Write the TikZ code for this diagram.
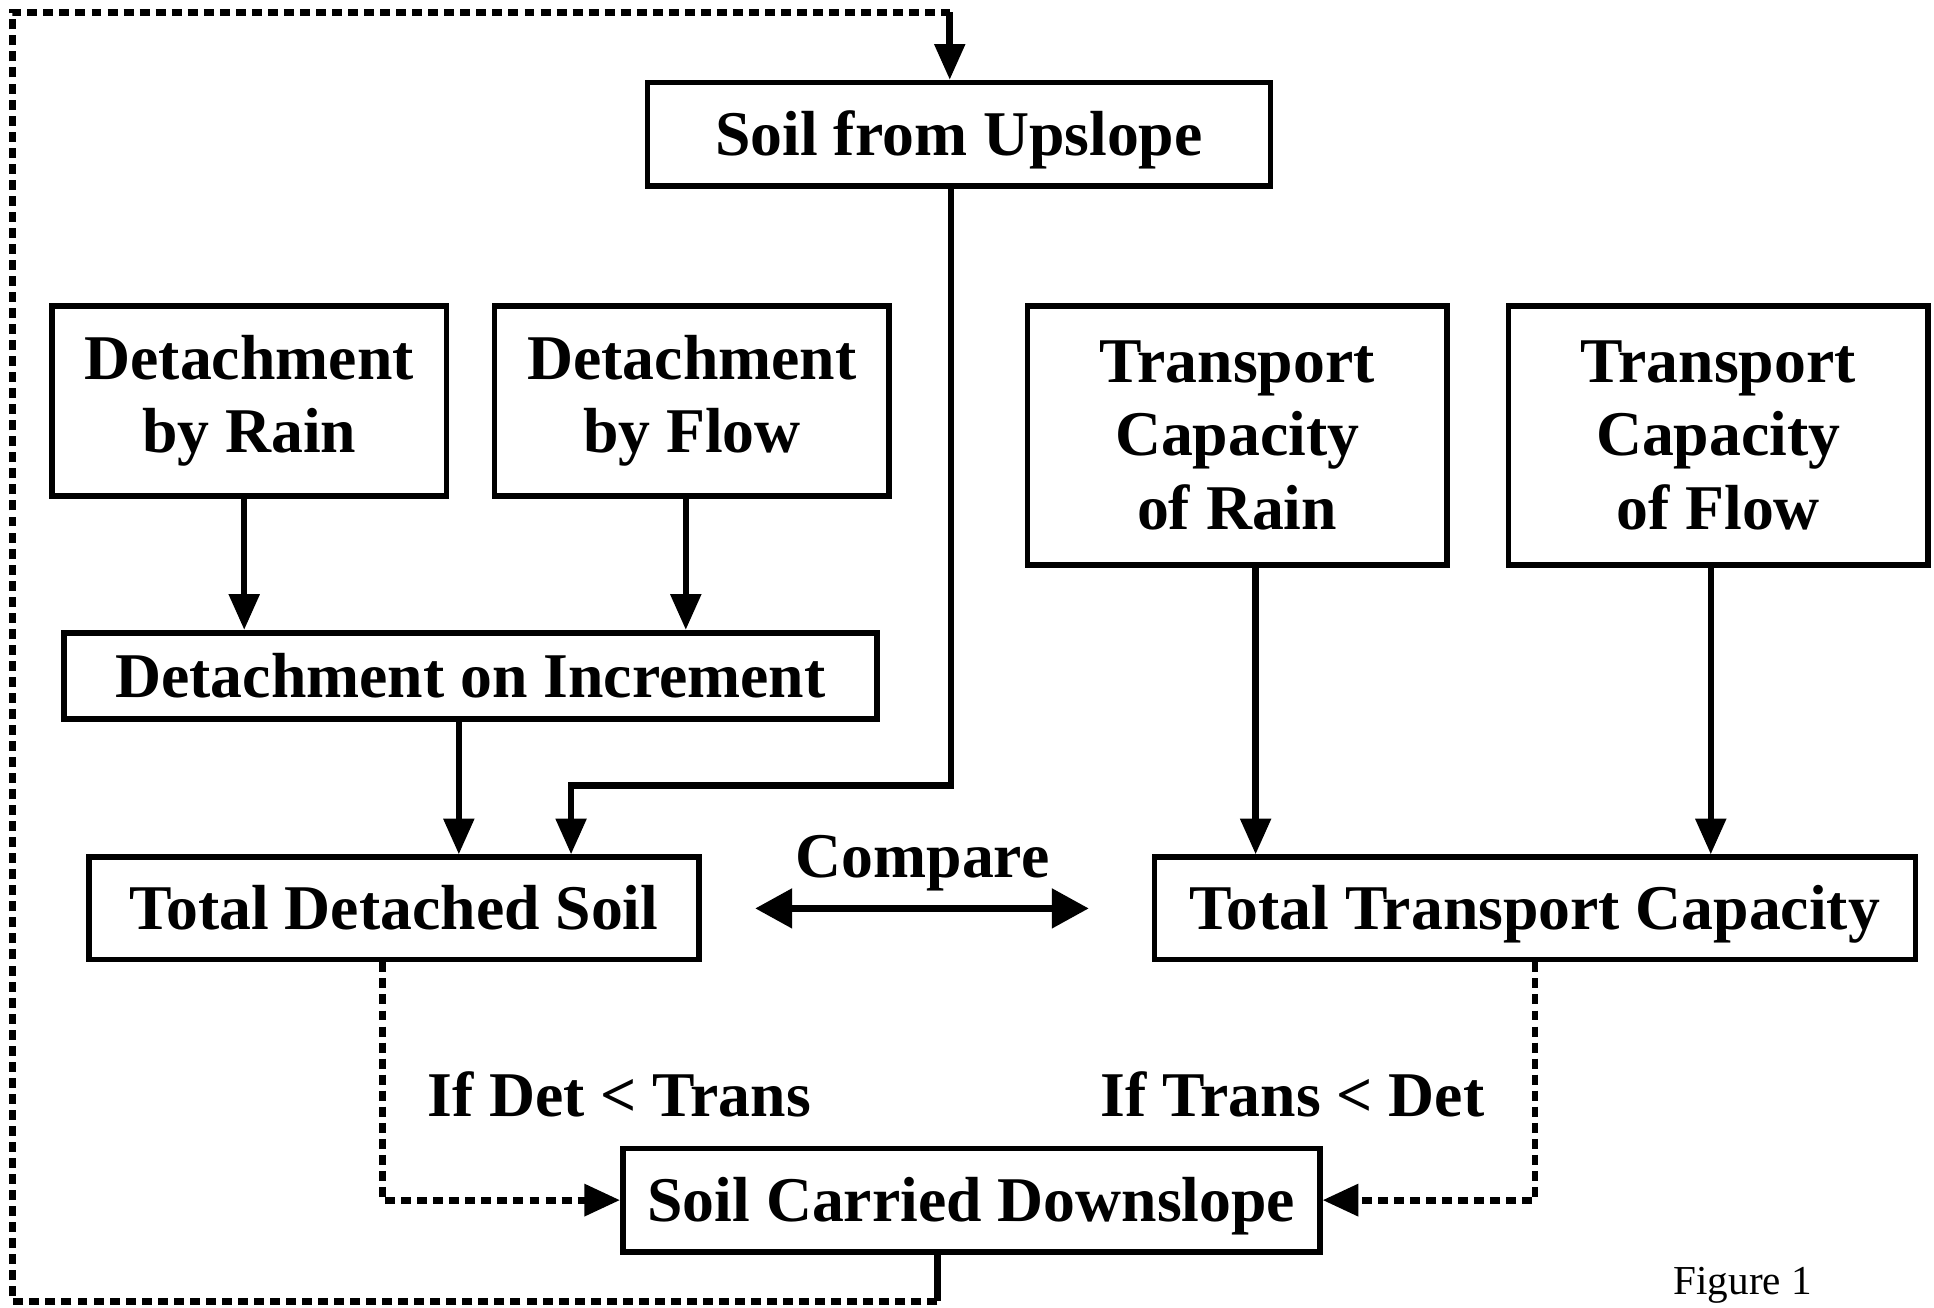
\documentclass[tikz,border=0pt]{standalone}
\usepackage{fontspec}
\setmainfont{Liberation Serif}
\usetikzlibrary{arrows.meta}

\tikzset{
    box/.style={draw, line width=2.6pt, align=center, inner sep=0pt,
        font=\fontsize{29.4}{34}\selectfont\bfseries},
    onebox/.style={box, text height=19.5pt, text depth=0pt},
    lbl/.style={font=\fontsize{29.4}{34}\selectfont\bfseries, inner sep=0pt,
        text height=19.5pt, text depth=0pt},
    arr/.style={line width=3pt, -{Triangle[length=0.58cm,width=0.48cm]}},
    dbl/.style={line width=3.4pt, {Triangle[length=0.6cm,width=0.62cm]}-{Triangle[length=0.6cm,width=0.62cm]}},
    dots/.style={line width=3.2pt, dash pattern=on 4.6pt off 2.8pt},
    dotarr/.style={dots, -{Triangle[length=0.58cm,width=0.5cm]}}
}

\begin{document}
\begin{tikzpicture}[x=0.02cm, y=-0.02cm]
    \useasboundingbox (0,0) rectangle (1568,1060);

    \node[onebox, minimum width=10.1cm, minimum height=1.68cm] (up) at (777.5,109) {Soil from Upslope};
    \node[box, minimum width=6.4cm, minimum height=3.08cm] (drain) at (202,325) {Detachment\\by Rain};
    \node[box, minimum width=6.4cm, minimum height=3.08cm] (dflow) at (561,325) {Detachment\\by Flow};
    \node[box, minimum width=6.8cm, minimum height=4.2cm] (train) at (1003,353) {Transport\\Capacity\\of Rain};
    \node[box, minimum width=6.8cm, minimum height=4.2cm] (tflow) at (1393,353) {Transport\\Capacity\\of Flow};
    \node[onebox, minimum width=13.18cm, minimum height=1.4cm] (incr) at (381.5,548) {Detachment on Increment};
    \node[onebox, minimum width=9.9cm, minimum height=1.66cm] (tds) at (319.5,736.5) {Total Detached Soil};
    \node[onebox, minimum width=12.34cm, minimum height=1.66cm] (ttc) at (1244.5,736.5) {Total Transport Capacity};
    \node[onebox, minimum width=11.3cm, minimum height=1.68cm] (down) at (787.5,973) {Soil Carried Downslope};

    \node[lbl] (cmp) at (748,694) {Compare};
    \node[lbl] (ifdet) at (502,888) {If Det < Trans};
    \node[lbl] (iftrans) at (1048,888) {If Trans < Det};
    \node[font=\fontsize{19}{22}\selectfont, inner sep=0pt] (fig) at (1413,1042) {Figure 1};

    \coordinate (j) at (463,637);
    \coordinate (fb1) at (760,1055);
    \coordinate (fb2) at (10,1055);
    \coordinate (fb3) at (10,10);
    \coordinate (fb4) at (770,10);

    \draw[arr] ([xshift=-0.08cm]drain.south) -- ([xshift=-0.08cm]drain.south |- incr.north);
    \draw[arr] ([xshift=-0.1cm]dflow.south) -- ([xshift=-0.1cm]dflow.south |- incr.north);
    \draw[arr] ([xshift=-0.19cm]incr.south) -- ([xshift=-0.19cm]incr.south |- tds.north);
    \draw[arr] ([xshift=-0.13cm]up.south) |- (j) -- (j |- tds.north);
    \draw[arr] ([xshift=0.3cm]train.south) -- ([xshift=0.3cm]train.south |- ttc.north);
    \draw[arr] ([xshift=-0.12cm]tflow.south) -- ([xshift=-0.12cm]tflow.south |- ttc.north);
    \draw[dbl, shorten <=0.86cm, shorten >=1.02cm] (tds) -- (ttc);

    \draw[dotarr] ([xshift=-0.19cm]tds.south) |- (down.west);
    \draw[dotarr] (ttc.south) |- (down.east);

    % feedback to the top
    \draw[line width=3pt] (down.south -| fb1) -- (fb1);
    \draw[dots] (fb1) -- (fb2) -- (fb3) -- (fb4);
    \draw[arr] (fb4) -- (fb4 |- up.north);
\end{tikzpicture}
\end{document}
